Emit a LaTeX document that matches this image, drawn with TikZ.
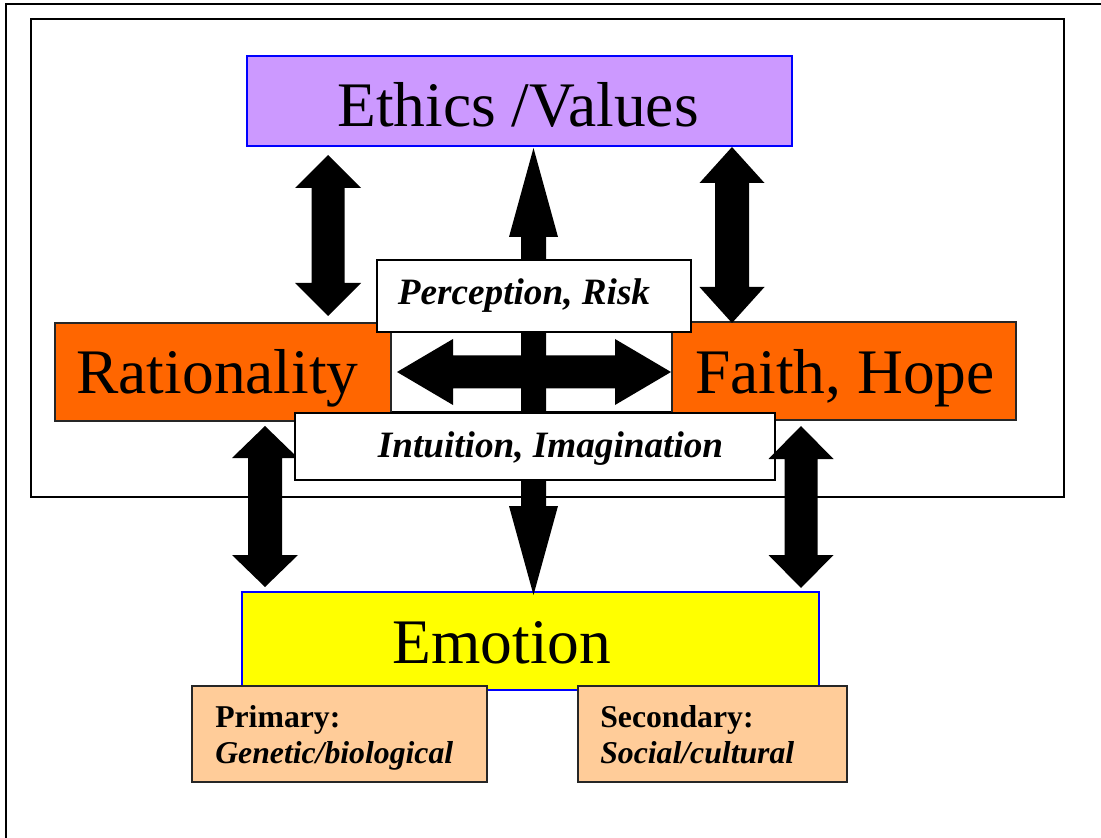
\documentclass[tikz,border=0pt]{standalone}
\usepackage{fontspec}
\setmainfont{Liberation Serif}
\definecolor{lilac}{HTML}{CC99FF}
\definecolor{orng}{HTML}{FF6600}
\definecolor{peach}{HTML}{FFCC99}
\definecolor{yel}{HTML}{FFFF00}
\definecolor{bblue}{HTML}{0000FF}
\newcommand\boxat[6]{\node[#1, minimum width={(#5-#3)*0.75pt}, minimum height={(#6-#4)*0.75pt}] (#2) at ({(#3+#5)/2},{(#4+#6)/2}) {};}
% vertical double block arrow: cx, ytop, ybot, head half width, head length, shaft half width
\newcommand\vdarrow[6]{\fill[black] (#1,#2) -- (#1+#4,#2+#5) -- (#1+#6,#2+#5) -- (#1+#6,#3-#5) -- (#1+#4,#3-#5) -- (#1,#3) -- (#1-#4,#3-#5) -- (#1-#6,#3-#5) -- (#1-#6,#2+#5) -- (#1-#4,#2+#5) -- cycle;}
% horizontal double block arrow: cy, xleft, xright, head half height, head length, shaft half
\newcommand\hdarrow[6]{\fill[black] (#2,#1) -- (#2+#5,#1-#4) -- (#2+#5,#1-#6) -- (#3-#5,#1-#6) -- (#3-#5,#1-#4) -- (#3,#1) -- (#3-#5,#1+#4) -- (#3-#5,#1+#6) -- (#2+#5,#1+#6) -- (#2+#5,#1+#4) -- cycle;}
\tikzset{
  box/.style={rectangle, inner sep=0pt, outer sep=0pt},
  bluebox/.style={box, draw=bblue, line width=1.5pt},
  orangebox/.style={box, fill=orng, draw=black!85, line width=0.9pt},
  whitebox/.style={box, fill=white, draw=black, line width=1.1pt},
  peachbox/.style={box, fill=peach, draw=black!85, line width=1.3pt},
  frame/.style={draw=black, line width=1.5pt},
  bigtxt/.style={inner sep=0pt, anchor=base, font=\fontsize{47.6}{57}\selectfont},
  midtxt/.style={inner sep=0pt, anchor=base, font=\fontsize{27.9}{33}\selectfont\bfseries\itshape},
  smalltxt/.style={inner sep=0pt, anchor=base west, font=\fontsize{23.8}{28}\selectfont\bfseries},
}
\begin{document}
\begin{tikzpicture}[x=0.75pt, y=-0.75pt]
\clip (0,0) rectangle (1101,838);
\fill[white] (0,0) rectangle (1101,838);
% outer frame (cropped)
\draw[frame] (6,900) -- (6,4) -- (1200,4);
% inner frame
\draw[frame] (31,19) rectangle (1064,497);
% middle white box
\boxat{whitebox}{mid}{391}{322}{672}{412}
% side boxes
\boxat{orangebox}{rat}{55}{323}{391}{421}
\boxat{orangebox}{faith}{672}{322}{1016}{420}
\boxat{bluebox, fill=lilac}{eth}{247}{56}{792}{146}
\boxat{bluebox, fill=yel}{emo}{242}{592}{819}{690}
% arrows
\vdarrow{328}{155}{316}{33}{33}{16.5}
\vdarrow{732}{147}{323}{32.5}{36}{17}
\vdarrow{533.5}{148}{595}{24.5}{89}{12.5}
\hdarrow{372}{397}{671}{33}{56}{16.5}
\vdarrow{265}{426}{587}{33}{32}{17}
% label boxes
\boxat{whitebox}{perc}{377}{260}{691}{332}
\boxat{whitebox}{intu}{295}{413}{775}{480}
\vdarrow{801}{426}{588}{32.5}{33}{16.5}
\boxat{peachbox}{prim}{192}{686}{487}{782}
\boxat{peachbox}{sec}{578}{686}{847}{782}
% texts
\node[bigtxt] (tEth) at (518,127) {Ethics /Values};
\node[bigtxt] (tRat) at (217.5,393) {Rationality};
\node[bigtxt] (tFai) at (845,393) {Faith, Hope};
\node[bigtxt] (tEmo) at (502,663) {Emotion};
\node[midtxt] (tPer) at (524,305) {Perception, Risk};
\node[midtxt] (tInt) at (550.5,457) {Intuition, Imagination};
\node[smalltxt] (tP1) at (215,727) {Primary:};
\node[smalltxt, font=\fontsize{23.8}{28}\selectfont\bfseries\itshape] (tP2) at (215,763) {Genetic/biological};
\node[smalltxt] (tS1) at (600,727) {Secondary:};
\node[smalltxt, font=\fontsize{23.8}{28}\selectfont\bfseries\itshape] (tS2) at (600,763) {Social/cultural};
\end{tikzpicture}
\end{document}
